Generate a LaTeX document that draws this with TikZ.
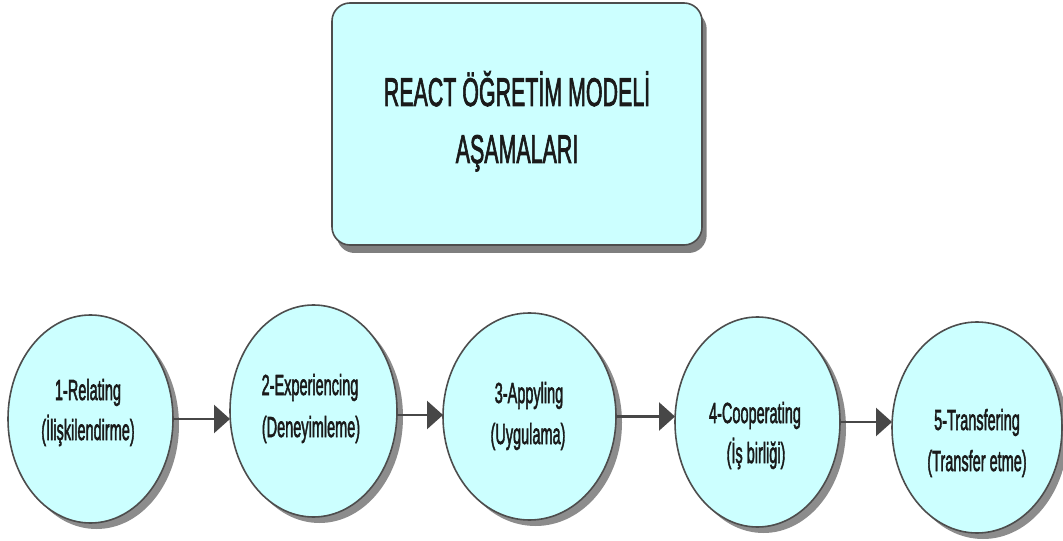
\documentclass[tikz,border=0pt]{standalone}
\usepackage{fontspec}
\setmainfont{Liberation Sans}
\newfontfamily\tfont{Liberation Sans}[FakeBold=2.5]
\usepackage{graphicx}
\usetikzlibrary{shapes.geometric,shadows,arrows.meta}
\definecolor{fillc}{HTML}{CCFFFF}
\definecolor{edgec}{HTML}{4D4D4D}
\definecolor{arrc}{HTML}{474747}
\definecolor{txtc}{HTML}{1A1A1A}
\newcommand{\sqz}[2]{\scalebox{#1}[1]{#2}}
\begin{document}
\begin{tikzpicture}[x=0.75pt,y=-0.75pt,
  stage/.style={ellipse, draw=edgec, line width=1.2pt, fill=fillc, inner sep=0pt, outer sep=0pt,
    drop shadow={shadow xshift=4.5pt, shadow yshift=-4.5pt, fill=black, opacity=0.45}},
  titlebox/.style={rectangle, rounded corners=13.5pt, draw=edgec, line width=1.2pt, fill=fillc, inner sep=0pt, outer sep=0pt,
    drop shadow={shadow xshift=3.5pt, shadow yshift=-6pt, fill=black, opacity=0.5}},
  lbl/.style={anchor=base, inner sep=0pt, text=txtc, font=\tfont\fontsize{21.75}{26}\selectfont},
  ttl/.style={anchor=base, inner sep=0pt, text=txtc, font=\tfont\fontsize{30}{36}\selectfont},
  arr/.style={draw=arrc, line width=1.9pt, -{Triangle[length=12pt,width=21pt]}}]
\fill[white] (0,0) rectangle (1063,541);
\useasboundingbox (0,0) rectangle (1063,541);

% title box
\node[titlebox, minimum width=277.5pt, minimum height=181.5pt] (title) at (517,124) {};
\node[ttl] (title1) at (517,106) {\sqz{0.535}{REACT ÖĞRETİM MODELİ}};
\node[ttl] (title2) at (517,163) {\sqz{0.535}{AŞAMALARI}};

% stages
\node[stage, minimum width=123.75pt, minimum height=156pt] (e1) at (90.5,419) {};
\node[stage, minimum width=125.25pt, minimum height=159pt] (e2) at (313.5,411) {};
\node[stage, minimum width=129.75pt, minimum height=155.25pt] (e3) at (529.5,416.5) {};
\node[stage, minimum width=123.75pt, minimum height=157.5pt] (e4) at (757.5,422) {};
\node[stage, minimum width=127.5pt, minimum height=158.25pt] (e5) at (977,427.5) {};

% labels
\node[lbl] (t1a) at (88,400) {\sqz{0.5}{1-Relating}};
\node[lbl] (t1b) at (88,440) {\sqz{0.5}{(İlişkilendirme)}};
\node[lbl] (t2a) at (310,395) {\sqz{0.5}{2-Experiencing}};
\node[lbl] (t2b) at (311,437) {\sqz{0.5}{(Deneyimleme)}};
\node[lbl] (t3a) at (529,403) {\sqz{0.5}{3-Appyling}};
\node[lbl] (t3b) at (528,444) {\sqz{0.5}{(Uygulama)}};
\node[lbl] (t4a) at (755,423) {\sqz{0.5}{4-Cooperating}};
\node[lbl] (t4b) at (756,463) {\sqz{0.5}{(İş birliği)}};
\node[lbl] (t5a) at (977,430) {\sqz{0.5}{5-Transfering}};
\node[lbl] (t5b) at (977,471) {\sqz{0.5}{(Transfer etme)}};

% arrows
\draw[arr] (e1.east) -- (e1.east -| e2.west);
\draw[arr] ([yshift=-3pt]e2.east) -- ([yshift=-3pt]e2.east -| e3.west);
\draw[arr] (e3.east) -- (e3.east -| e4.west);
\draw[arr] (e4.east) -- (e4.east -| e5.west);
\end{tikzpicture}
\end{document}
